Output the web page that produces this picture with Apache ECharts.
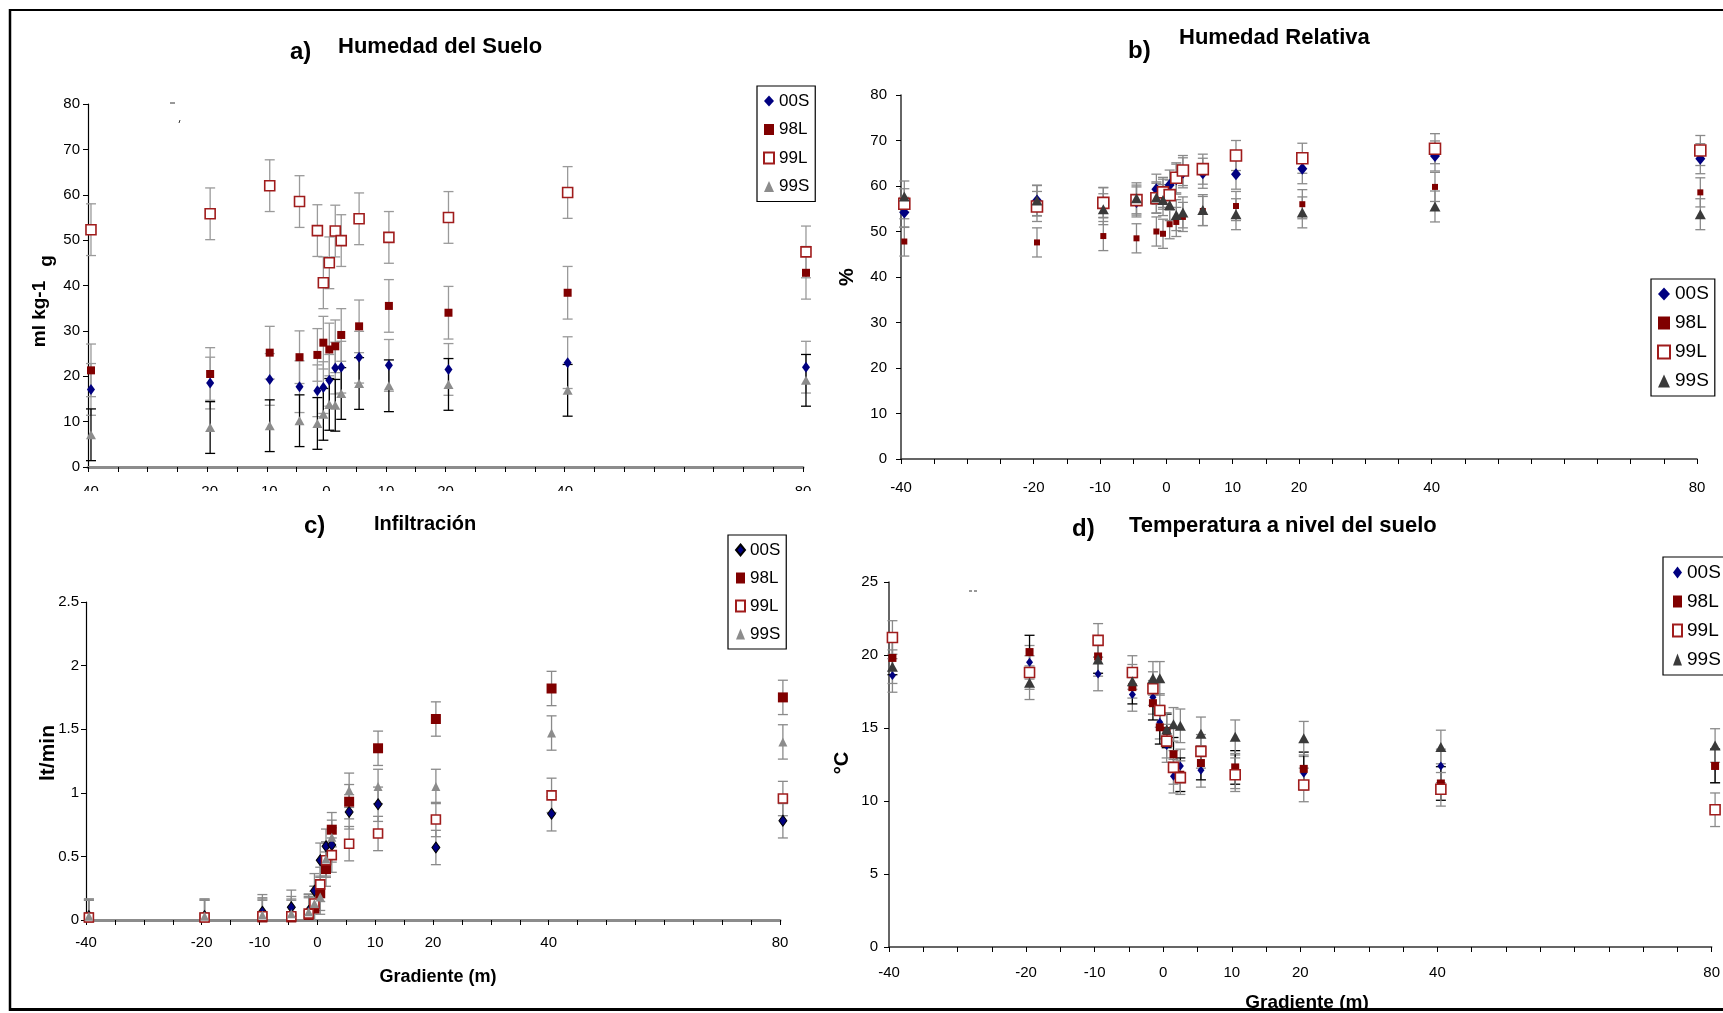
<!DOCTYPE html>
<html><head><meta charset="utf-8">
<script src="https://cdn.jsdelivr.net/npm/echarts@6/dist/echarts.min.js"></script>
<style>html,body{margin:0;padding:0;background:#fff}#c{width:1723px;height:1013px}</style>
</head><body><div id="c"></div>
<script>
// ---------- data ----------
const SERIES = ['00S', '98L', '99L', '99S'];
const X = [-39.5, -19.5, -9.5, -4.5, -1.5, -0.5, 0.5, 1.5, 2.5, 5.5, 10.5, 20.5, 40.5, 80.5];
const X_LABELS = [-40, -20, -10, 0, 10, 20, 40, 80];

// a) Humedad del Suelo
const A_00S = [17.1, 18.5, 19.3, 17.7, 16.8, 17.5, 19.1, 21.8, 22.0, 24.2, 22.4, 21.5, 23.0, 22.0];
const A_98L = [21.3, 20.5, 25.2, 24.2, 24.7, 27.4, 25.9, 26.6, 29.1, 31.0, 35.5, 34.0, 38.4, 42.8];
const A_99L = [52.3, 55.8, 62.0, 58.5, 52.1, 40.6, 45.0, 52.0, 49.9, 54.7, 50.6, 55.0, 60.5, 47.4];
const A_99S = [7.1, 8.7, 9.1, 10.2, 9.6, 11.6, 13.8, 13.6, 16.2, 18.4, 17.9, 18.2, 16.9, 19.1];
const A_SD = [5.7, 5.8, 5.7, 5.7];

// b) Humedad Relativa
const B_00S = [54.2, 56.8, 56.4, 56.5, 59.3, 58.2, 60.2, 61.5, 62.9, 62.8, 62.6, 63.8, 66.6, 66.0];
const B_98L = [47.8, 47.6, 49.0, 48.5, 50.0, 49.5, 51.6, 52.1, 53.2, 54.5, 55.6, 56.0, 59.8, 58.6];
const B_99L = [56.1, 55.5, 56.3, 56.9, 57.3, 58.6, 58.0, 61.8, 63.4, 63.7, 66.7, 66.1, 68.2, 67.8];
const B_99S = [57.7, 56.8, 54.9, 57.3, 57.5, 56.9, 55.8, 53.6, 54.2, 54.7, 53.8, 54.2, 55.5, 53.8];
const B_SD = [3.3, 3.2, 3.3, 3.4];

// c) Infiltración
const C_00S = [0.03, 0.03, 0.065, 0.10, 0.07, 0.23, 0.47, 0.58, 0.59, 0.85, 0.91, 0.57, 0.835, 0.78];
const C_98L = [0.02, 0.02, 0.02, 0.02, 0.04, 0.09, 0.21, 0.40, 0.71, 0.93, 1.35, 1.58, 1.82, 1.75];
const C_99L = [0.02, 0.02, 0.03, 0.03, 0.05, 0.13, 0.28, 0.47, 0.51, 0.60, 0.68, 0.79, 0.98, 0.955];
const C_99S = [0.03, 0.03, 0.04, 0.05, 0.065, 0.13, 0.18, 0.48, 0.65, 1.02, 1.05, 1.05, 1.47, 1.40];
const C_SD = [0.135, 0.135, 0.135, 0.135];

// d) Temperatura a nivel del suelo
const D_00S = [18.6, 19.5, 18.7, 17.3, 17.1, 15.4, 13.8, 11.7, 12.4, 12.1, 12.0, 11.9, 12.4, 12.4];
const D_98L = [19.8, 20.2, 19.9, 17.8, 16.7, 15.05, 14.8, 13.2, 11.8, 12.6, 12.3, 12.2, 11.2, 12.4];
const D_99L = [21.2, 18.8, 21.0, 18.8, 17.7, 16.2, 14.1, 12.3, 11.6, 13.4, 11.8, 11.1, 10.8, 9.4];
const D_99S = [19.2, 18.1, 19.7, 18.2, 18.4, 18.4, 14.9, 15.25, 15.15, 14.6, 14.4, 14.3, 13.7, 13.8];
const D_SD = [1.15, 1.15, 1.15, 1.15];

// ---------- layout / styling ----------
const FONT = "'Liberation Sans', Arial, sans-serif";
const NAVY = '#000080', DRED = '#800000', ORED = '#a01c1c';

const panels = [
  { key: 'a', vals: [A_00S, A_98L, A_99L, A_99S], sd: A_SD, ymax: 80, yint: 10,
    grid: { left: 88, top: 104, width: 715, height: 363 },
    xLine: { color: '#8c8c8c', width: 3 }, yLine: { color: '#000', width: 1.2 },
    xMargin: 17, yMargin: 8,
    sizes: [[8, 11], 8, 10, [10, 9]], tri: '#8c8c8c', dBorder: null,
    ebColors: ['#9a9a9a', '#9a9a9a', '#9a9a9a', '#000'],
    legend: { left: 757, top: 86, pad: [5, 6, 5, 6], fs: 17, lh: 20, gap: 8.5, iw: 10, ih: 11 } },
  { key: 'b', vals: [B_00S, B_98L, B_99L, B_99S], sd: B_SD, ymax: 80, yint: 10,
    grid: { left: 901, top: 95, width: 796, height: 364 },
    xLine: { color: '#333', width: 1.5 }, yLine: { color: '#333', width: 1.5 },
    xMargin: 21, yMargin: 14,
    sizes: [[10, 12], 6, 11, [11, 10]], tri: '#3a3a3a', dBorder: null,
    ebColors: ['#8a8a8a', '#8a8a8a', '#8a8a8a', '#8a8a8a'],
    legend: { left: 1651, top: 279, pad: [4.5, 6, 4.5, 6], fs: 19, lh: 21, gap: 8, iw: 12, ih: 13 } },
  { key: 'c', vals: [C_00S, C_98L, C_99L, C_99S], sd: C_SD, ymax: 2.5, yint: 0.5,
    grid: { left: 86, top: 602, width: 694, height: 318 },
    xLine: { color: '#8c8c8c', width: 3 }, yLine: { color: '#000', width: 1.2 },
    xMargin: 15, yMargin: 7,
    sizes: [[8, 11], 10, 9, [9, 9]], tri: '#8c8c8c', dBorder: '#000',
    ebColors: ['#8a8a8a', '#8a8a8a', '#8a8a8a', '#8a8a8a'],
    legend: { left: 728, top: 535, pad: [5, 6, 5, 7], fs: 17, lh: 20, gap: 8, iw: 9, ih: 11 } },
  { key: 'd', vals: [D_00S, D_98L, D_99L, D_99S], sd: D_SD, ymax: 25, yint: 5,
    grid: { left: 889, top: 582, width: 828, height: 365 },
    xLine: { color: '#333', width: 1.5 }, yLine: { color: '#333', width: 1.5 },
    xMargin: 18, yMargin: 11,
    sizes: [[7, 9], 8, 10, [11, 10]], tri: '#3a3a3a', dBorder: null,
    ebColors: ['#8a8a8a', '#000', '#8a8a8a', '#8a8a8a'],
    legend: { left: 1663, top: 557, pad: [5, 6, 5, 9], fs: 19, lh: 21, gap: 8, iw: 9, ih: 12 } }
];

function ebRender(color) {
  return function (params, api) {
    const x = api.value(0), y = api.value(1), e = api.value(2);
    const hi = api.coord([x, y + e]);
    let lv = y - e, clipped = false;
    if (lv < 0) { lv = 0; clipped = true; }
    const lo = api.coord([x, lv]);
    const w = 5, st = { stroke: color, lineWidth: 1.3 };
    const ch = [
      { type: 'line', shape: { x1: hi[0], y1: hi[1], x2: lo[0], y2: lo[1] }, style: st },
      { type: 'line', shape: { x1: hi[0] - w, y1: hi[1], x2: hi[0] + w, y2: hi[1] }, style: st }
    ];
    if (!clipped) ch.push({ type: 'line', shape: { x1: lo[0] - w, y1: lo[1], x2: lo[0] + w, y2: lo[1] }, style: st });
    return { type: 'group', children: ch };
  };
}

const grids = [], xAxes = [], yAxes = [], series = [], legends = [];
panels.forEach((p, i) => {
  grids.push(Object.assign({ containLabel: false }, p.grid));
  xAxes.push({
    gridIndex: i, type: 'value', min: -40, max: 80, interval: 5,
    axisLine: { onZero: false, lineStyle: p.xLine },
    axisTick: { show: true, length: 5, lineStyle: { color: '#000', width: 1 } },
    axisLabel: { margin: p.xMargin, fontSize: 15, color: '#000', fontFamily: FONT,
      formatter: v => X_LABELS.includes(v) ? String(v) : '' },
    splitLine: { show: false }
  });
  yAxes.push({
    gridIndex: i, type: 'value', min: 0, max: p.ymax, interval: p.yint,
    axisLine: { show: true, onZero: false, lineStyle: p.yLine },
    axisTick: { show: true, length: 5, lineStyle: { color: '#000', width: 1 } },
    axisLabel: { margin: p.yMargin, fontSize: 15, color: '#000', fontFamily: FONT },
    splitLine: { show: false }
  });
  const styles = [
    { color: NAVY, borderColor: p.dBorder || NAVY, borderWidth: p.dBorder ? 1 : 0 },
    { color: DRED, borderWidth: 0 },
    { color: '#ffffff', borderColor: ORED, borderWidth: 1.6 },
    { color: p.tri, borderWidth: 0 }
  ];
  const symbols = ['diamond', 'rect', 'rect', 'triangle'];
  SERIES.forEach((s, k) => {
    series.push({
      type: 'custom', name: p.key + ' eb ' + s, xAxisIndex: i, yAxisIndex: i,
      coordinateSystem: 'cartesian2d', silent: true, clip: false,
      renderItem: ebRender(p.ebColors[k]),
      encode: { x: 0, y: 1 },
      data: X.map((x, j) => [x, p.vals[k][j], p.sd[k]])
    });
    series.push({
      type: 'scatter', name: p.key + ':' + s, xAxisIndex: i, yAxisIndex: i,
      symbol: symbols[k], symbolSize: p.sizes[k], clip: false, silent: true,
      itemStyle: Object.assign({ opacity: 1 }, styles[k]),
      emphasis: { disabled: true },
      data: X.map((x, j) => [x, p.vals[k][j]])
    });
  });
  const L = p.legend;
  legends.push({
    left: L.left, top: L.top, orient: 'vertical', selectedMode: false,
    data: SERIES.map(s => p.key + ':' + s),
    formatter: n => n.split(':')[1],
    itemWidth: L.iw, itemHeight: L.ih, itemGap: L.gap, padding: L.pad,
    borderColor: '#000', borderWidth: 1.2, backgroundColor: '#fff',
    textStyle: { fontFamily: FONT, fontSize: L.fs, lineHeight: L.lh, color: '#000' }
  });
});

function txt(s, x, y, size, rot, align) {
  return { type: 'text', x: x, y: y, rotation: rot || 0, z: 50,
    style: { text: s, font: 'bold ' + size + 'px ' + FONT, fill: '#000',
      textAlign: align || 'left', textVerticalAlign: 'middle' } };
}
function ln(x1, y1, x2, y2, w, c) {
  return { type: 'line', z: 120, shape: { x1, y1, x2, y2 }, style: { stroke: c || '#000', lineWidth: w } };
}

const graphics = [
  // hide lower part of panel a x labels (as in the reference)
  { type: 'rect', z: 100, shape: { x: 12, y: 491, width: 838, height: 20 }, style: { fill: '#fff' } },
  txt('a)', 290, 52, 24), txt('Humedad del Suelo', 338, 47, 22),
  txt('b)', 1128, 51, 24), txt('Humedad Relativa', 1179, 38, 22),
  txt('c)', 304, 526, 24), txt('Infiltración', 374, 524, 20),
  txt('d)', 1072, 529, 24), txt('Temperatura a nivel del suelo', 1129, 526, 22),
  txt('ml kg-1', 40, 314, 19, Math.PI / 2, 'center'),
  txt('g', 47, 261, 19, Math.PI / 2, 'center'),
  txt('%', 847, 277, 20, Math.PI / 2, 'center'),
  txt('lt/min', 48, 753, 21, Math.PI / 2, 'center'),
  txt('°C', 842, 763, 20, Math.PI / 2, 'center'),
  txt('Gradiente (m)', 438, 977, 18, 0, 'center'),
  txt('Gradiente (m)', 1307, 1003, 19, 0, 'center'),
  // small stray marks
  ln(170, 103, 175, 103, 1, '#333'), ln(180, 120, 179, 123, 1, '#333'),
  ln(969, 591, 972, 591, 1, '#333'), ln(974, 591, 977, 591, 1, '#333'),
  // frame
  { type: 'rect', z: 110, shape: { x: 0, y: 1010, width: 1723, height: 3 }, style: { fill: '#fff' } },
  ln(10, 10, 1723, 10, 2), ln(10, 9, 10, 1011, 2.5), ln(9, 1009.5, 1723, 1009.5, 3)
];

const chart = echarts.init(document.getElementById('c'), null, { renderer: 'canvas' });
chart.setOption({
  animation: false,
  backgroundColor: '#fff',
  grid: grids, xAxis: xAxes, yAxis: yAxes,
  legend: legends, series: series,
  graphic: { elements: graphics }
});
</script></body></html>
